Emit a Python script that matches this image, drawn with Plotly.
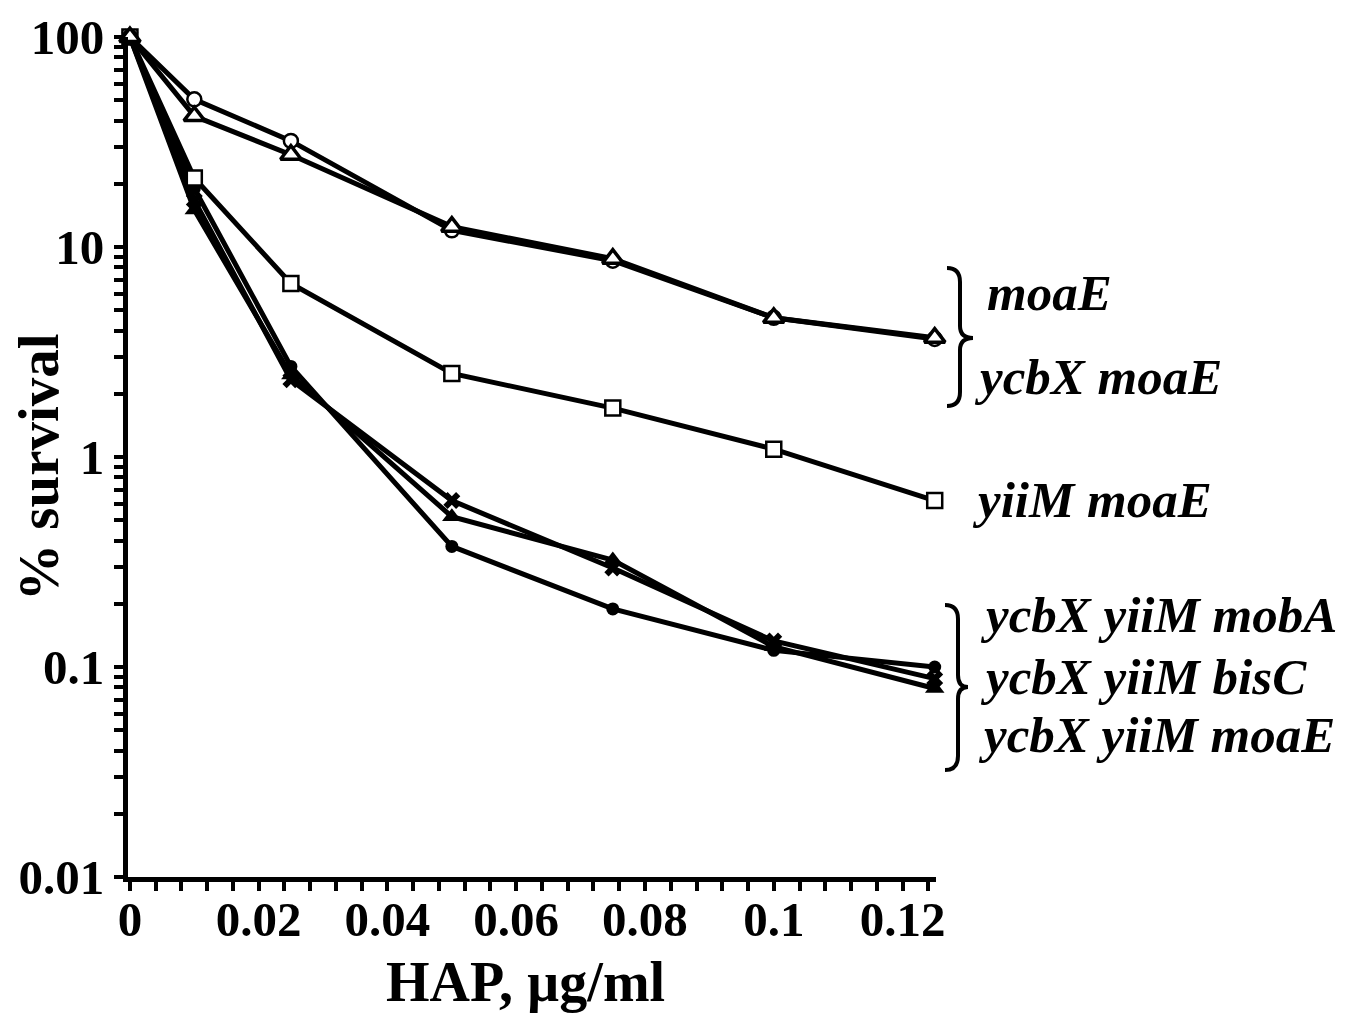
import plotly.graph_objects as go

# ---- data ----
hap = [0, 0.01, 0.025, 0.05, 0.075, 0.1, 0.125]
moaE = [100, 50.5, 32, 12.0, 8.6, 4.6, 3.65]
ycbX_moaE = [100, 42, 27.5, 12.5, 8.8, 4.6, 3.7]
yiiM_moaE = [100, 21.3, 6.7, 2.5, 1.71, 1.09, 0.62]
ycbX_yiiM_mobA = [100, 19.0, 2.7, 0.375, 0.189, 0.12, 0.1]
ycbX_yiiM_bisC = [100, 16.7, 2.33, 0.62, 0.296, 0.133, 0.088]
ycbX_yiiM_moaE = [100, 15.0, 2.46, 0.52, 0.323, 0.125, 0.079]

y_tick_labels = ["0.01", "0.1", "1", "10", "100"]
x_tick_labels = ["0", "0.02", "0.04", "0.06", "0.08", "0.1", "0.12"]

# ---- layout geometry (screen pixels; page body has an 8px margin) ----
OFF = 8
W, H = 1350 - OFF, 1015 - OFF
L_PX, R_PX, T_PX, B_PX = 128, 936, 37, 877
FONT = "Liberation Serif"


def px(x):
    return (x - L_PX) / (R_PX - L_PX)


def py(y):
    return (B_PX - y) / (B_PX - T_PX)


fig = go.Figure()

series = [
    (ycbX_yiiM_mobA, dict(symbol="circle", size=13, color="black")),
    (ycbX_yiiM_bisC, dict(symbol="x", size=15, color="black")),
    (ycbX_yiiM_moaE, dict(symbol="triangle-up", size=17, color="black")),
    (yiiM_moaE, dict(symbol="square", size=15, color="white", line=dict(color="black", width=2.5))),
    (moaE, dict(symbol="circle", size=14, color="white", line=dict(color="black", width=2.5))),
    (ycbX_moaE, dict(symbol="triangle-up", size=18, color="white", line=dict(color="black", width=3.5))),
]
for ys, mk in series:
    fig.add_trace(go.Scatter(x=hap, y=ys, mode="lines+markers",
                             line=dict(color="black", width=5),
                             marker=mk, cliponaxis=False, showlegend=False))

# ticks
xt_vals = [i * 0.004 for i in range(32)]
xl_vals = [float(s) for s in x_tick_labels]

# empty trace so the label axis is drawn
fig.add_trace(go.Scatter(x=xl_vals, y=[None] * len(xl_vals), xaxis="x2", yaxis="y",
                         mode="markers", showlegend=False, hoverinfo="skip"))

yt_vals, yt_text = [], []
for d in range(-2, 3):
    for m in range(1, 10):
        v = m * 10 ** d
        if v > 100.0001:
            break
        yt_vals.append(v)
        yt_text.append(y_tick_labels[d + 2] if m == 1 else "")

XR = [-0.0003, 0.1252]
fig.update_layout(
    xaxis=dict(range=XR, tickvals=xt_vals, showticklabels=False,
               ticks="outside", ticklen=9, tickwidth=4, tickcolor="black",
               showline=True, linewidth=5, linecolor="black", showgrid=False,
               zeroline=False, automargin=False),
    xaxis2=dict(range=XR, overlaying="x", anchor="free", position=0,
                side="bottom", tickvals=xl_vals, ticktext=x_tick_labels, ticks="",
                ticklabelstandoff=9,
                showline=False, showgrid=False, zeroline=False, automargin=False,
                tickfont=dict(family=FONT, size=49, color="black", weight="bold")),
    yaxis=dict(type="log", range=[-2, 2], tickvals=yt_vals, ticktext=yt_text,
               ticks="outside", ticklen=9, tickwidth=4, tickcolor="black",
               showline=True, linewidth=5, linecolor="black", showgrid=False,
               zeroline=False, automargin=False,
               tickfont=dict(family=FONT, size=49, color="black", weight="bold")),
)

# axis titles
fig.add_annotation(text="<b>HAP, µg/ml</b>", xref="paper", yref="paper",
                   x=px(525), y=py(982), xanchor="center", yanchor="middle",
                   showarrow=False, font=dict(family=FONT, size=56, color="black"))
fig.add_annotation(text="<b>% survival</b>", xref="paper", yref="paper",
                   x=px(39), y=py(467), xanchor="center", yanchor="middle", textangle=-90,
                   showarrow=False, font=dict(family=FONT, size=57, color="black"))

# labels
labels = [
    ("moaE", 985, 293),
    ("ycbX moaE", 972, 377),
    ("yiiM moaE", 970, 500),
    ("ycbX yiiM mobA", 978, 615),
    ("ycbX yiiM bisC", 978, 677),
    ("ycbX yiiM moaE", 976, 735),
]
for t, x, y in labels:
    fig.add_annotation(text="<b><i>" + t + "</i></b>", xref="paper", yref="paper",
                       x=px(x), y=py(y), xanchor="left", yanchor="middle",
                       showarrow=False, font=dict(family=FONT, size=51, color="black"))


def brace(Lx, Sx, Tx, yt, ym, yb, r=14, r2=12):
    pts = [
        ("M", [(Lx, yt)]),
        ("Q", [(Sx, yt), (Sx, yt + r)]),
        ("L", [(Sx, ym - r2)]),
        ("Q", [(Sx, ym), (Tx, ym)]),
        ("Q", [(Sx, ym), (Sx, ym + r2)]),
        ("L", [(Sx, yb - r)]),
        ("Q", [(Sx, yb), (Lx, yb)]),
    ]
    s = ""
    for cmd, ps in pts:
        s += cmd + " " + " ".join(f"{px(a):.5f},{py(b):.5f}" for a, b in ps) + " "
    return s


fig.add_shape(type="path", xref="paper", yref="paper",
              path=brace(947, 960, 973, 268, 338, 406), line=dict(color="black", width=4))
fig.add_shape(type="path", xref="paper", yref="paper",
              path=brace(945, 958, 968, 605, 687, 770), line=dict(color="black", width=4))

fig.update_layout(width=W, height=H, plot_bgcolor="white", paper_bgcolor="white",
                  margin=dict(l=L_PX - OFF, r=W - (R_PX - OFF), t=T_PX - OFF,
                              b=H - (B_PX - OFF), pad=0))

fig.write_html("out.html")
